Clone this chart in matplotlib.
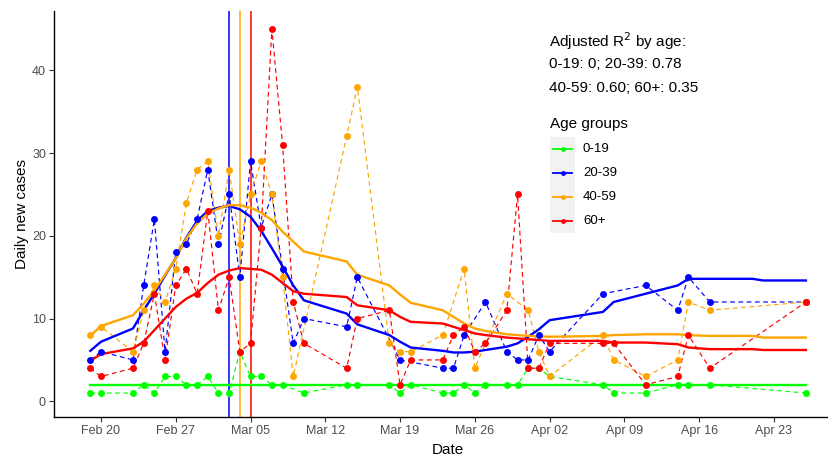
import numpy as np
import matplotlib
matplotlib.use('Agg')
import matplotlib.pyplot as plt
import matplotlib.dates as mdates
from matplotlib.patches import Rectangle
from matplotlib.lines import Line2D

plt.rcParams['font.family'] = ['Liberation Sans', 'DejaVu Sans']

start = np.datetime64('2020-02-20')

# daily counts, days counted from Feb 20 2020
green_days = [-1, 0, 3, 4, 5, 6, 7, 8, 9, 10, 11, 12, 13, 14, 15, 16, 17, 19, 23, 24, 27, 28, 29,
              32, 33, 34, 35, 36, 38, 39, 40, 41, 42, 47, 48, 51, 54, 55, 57, 66]
green_vals = [1, 1, 1, 2, 1, 3, 3, 2, 2, 3, 1, 1, 6, 3, 3, 2, 2, 1, 2, 2, 2, 1, 2,
              1, 1, 2, 1, 2, 2, 2, 4, 4, 3, 2, 1, 1, 2, 2, 2, 1]

blue_days = [-1, 0, 3, 4, 5, 6, 7, 8, 9, 10, 11, 12, 13, 14, 15, 16, 17, 18, 19, 23, 24, 28,
             32, 33, 34, 36, 38, 39, 40, 41, 42, 47, 51, 54, 55, 57, 66]
blue_vals = [5, 6, 5, 14, 22, 6, 18, 19, 22, 28, 19, 25, 15, 29, 21, 25, 16, 7, 10, 9, 15, 5,
             4, 4, 8, 12, 6, 5, 5, 8, 6, 13, 14, 11, 15, 12, 12]

orange_days = [-1, 0, 3, 4, 5, 6, 7, 8, 9, 10, 11, 12, 13, 14, 15, 16, 17, 18, 23, 24, 27, 28, 29,
               32, 34, 35, 38, 40, 41, 42, 47, 48, 51, 54, 55, 57, 66]
orange_vals = [8, 9, 6, 11, 14, 12, 16, 24, 28, 29, 20, 28, 19, 25, 29, 25, 15, 3, 32, 38, 7, 6, 6,
               8, 16, 4, 13, 11, 6, 3, 8, 5, 3, 5, 12, 11, 12]

red_days = [-1, 0, 3, 4, 5, 6, 7, 8, 9, 10, 11, 12, 13, 14, 15, 16, 17, 18, 19, 23, 24, 27, 28, 29,
            32, 33, 34, 35, 36, 38, 39, 40, 41, 42, 47, 48, 51, 54, 55, 57, 66]
red_vals = [4, 3, 4, 7, 13, 5, 14, 16, 13, 23, 11, 15, 6, 7, 21, 45, 31, 12, 7, 4, 10, 11, 2, 5,
            5, 8, 9, 6, 7, 11, 25, 4, 4, 7, 7, 7, 2, 3, 8, 4, 12]

# fitted curves
fit_days = [-1, 0, 3, 4, 5, 6, 7, 8, 9, 10, 11, 12, 13, 14, 15, 16, 17, 18, 19, 23, 24, 27, 28, 29,
            32, 33, 34, 35, 36, 38, 39, 40, 41, 42, 47, 48, 51, 54, 55, 57, 61, 62, 66]
blue_fit = [6.1, 7.2, 8.8, 11.0, 13.0, 15.2, 17.3, 19.8, 21.8, 23.0, 23.4, 23.6, 23.2, 22.3, 20.6,
            18.5, 16.3, 14.0, 12.2, 10.6, 9.3, 8.0, 7.2, 6.5, 6.1, 5.9, 5.9, 6.0, 6.2, 6.6, 7.0, 7.8,
            8.7, 9.8, 10.8, 12.0, 13.0, 14.0, 14.8, 14.8, 14.8, 14.6, 14.6]
orange_fit = [7.9, 9.1, 10.4, 11.8, 13.4, 15.3, 17.3, 19.7, 21.5, 22.7, 23.3, 23.7, 23.7, 23.4, 22.8,
              21.9, 20.5, 19.3, 18.1, 16.9, 15.3, 14.0, 12.9, 11.9, 11.0, 10.2, 9.4, 8.8, 8.5, 8.1,
              8.0, 7.9, 7.85, 7.8, 7.9, 8.0, 8.1, 8.1, 8.0, 7.9, 7.9, 7.7, 7.7]
red_fit = [4.9, 5.7, 6.4, 7.2, 8.6, 10.0, 11.4, 12.4, 13.1, 14.3, 15.3, 15.8, 16.1, 16.0, 15.9,
           15.3, 14.3, 13.3, 13.0, 12.6, 11.6, 11.0, 10.2, 9.6, 9.4, 9.0, 8.6, 8.2, 8.0, 7.7, 7.6,
           7.5, 7.4, 7.3, 7.3, 7.1, 7.1, 6.9, 6.5, 6.3, 6.3, 6.2, 6.2]
green_fit_days = [-1, 66]
green_fit = [2, 2]

peak_days = [12, 13, 14]
peak_colors = ['#0000FF', '#FFA500', '#FF0000']

groups = ['0-19', '20-39', '40-59', '60+']
colors = ['#00FF00', '#0000FF', '#FFA500', '#FF0000']
r2_lines = ['Adjusted R$^2$ by age:', '0-19: 0; 20-39: 0.78', '40-59: 0.60; 60+: 0.35']


def to_dates(d):
    return start + np.array(d).astype('timedelta64[D]')


W, H = 829, 455
fig = plt.figure(figsize=(8.29, 4.55), dpi=100)


def fx(px):
    return px / W


def fy(py):
    return 1 - py / H


ax = fig.add_axes([fx(54.3), fy(416.7), (841.7 - 54.3) / W, (416.7 - 11) / H])

for d, c in zip(peak_days, peak_colors):
    ax.axvline(to_dates([d])[0], color=c, lw=1.1, zorder=1)

series = [(green_days, green_vals, green_fit_days, green_fit),
          (blue_days, blue_vals, fit_days, blue_fit),
          (orange_days, orange_vals, fit_days, orange_fit),
          (red_days, red_vals, fit_days, red_fit)]

for k, (d, v, fd, fv) in enumerate(series):
    c = colors[k]
    ax.plot(to_dates(d), v, color=c, lw=0.85, dashes=(4, 3), zorder=2 + k * 0.1)
    ax.plot(to_dates(fd), fv, color=c, lw=1.7, zorder=2.5 + k * 0.1)
    ax.plot(to_dates(d), v, 'o', color=c, ms=5, mec='none', zorder=3 + k * 0.1)

x0 = mdates.date2num(start)
ax.set_xlim(x0 - 4.37, x0 + 69.35)
ax.set_ylim(-1.86, 47.16)

ticks = to_dates([0, 7, 14, 21, 28, 35, 42, 49, 56, 63])
ax.set_xticks(ticks)
ax.xaxis.set_major_formatter(mdates.DateFormatter('%b %d'))
ax.set_yticks([0, 10, 20, 30, 40])

for s in ['top', 'right']:
    ax.spines[s].set_visible(False)
for s in ['left', 'bottom']:
    ax.spines[s].set_linewidth(1.0)
    ax.spines[s].set_color('black')
ax.tick_params(length=3.5, width=0.8, color='#333333', labelcolor='#4D4D4D',
               labelsize=9, pad=2.5)

fig.text(fx(448), fy(453.5), 'Date', fontsize=11, ha='center', va='baseline')
fig.text(fx(21.7), fy(213.9), 'Daily new cases', fontsize=11, rotation=90,
         ha='center', va='center')

# R2 annotation
for txt, base in zip(r2_lines, [46.7, 68.3, 91.7]):
    fig.text(fx(549), fy(base), txt, fontsize=11, ha='left', va='baseline')

# legend
fig.text(fx(550), fy(128.3), 'Age groups', fontsize=11, ha='left', va='baseline')
fig.patches.append(Rectangle((fx(550), fy(233.3)), (575 - 550) / W, (233.3 - 136.7) / H,
                             transform=fig.transFigure, facecolor='#F2F2F2',
                             edgecolor='none', zorder=0))
for k, (g, c) in enumerate(zip(groups, colors)):
    ky = 148.5 + k * 24.3
    fig.lines.append(Line2D([fx(553), fx(572)], [fy(ky), fy(ky)], transform=fig.transFigure,
                            color=c, lw=1.3))
    fig.lines.append(Line2D([fx(562.5)], [fy(ky)], transform=fig.transFigure, marker='o',
                            color=c, ms=3.5, mec='none'))
    fig.text(fx(583), fy(ky), g, fontsize=9.5, ha='left', va='center')

fig.savefig('out.png', dpi=100)
